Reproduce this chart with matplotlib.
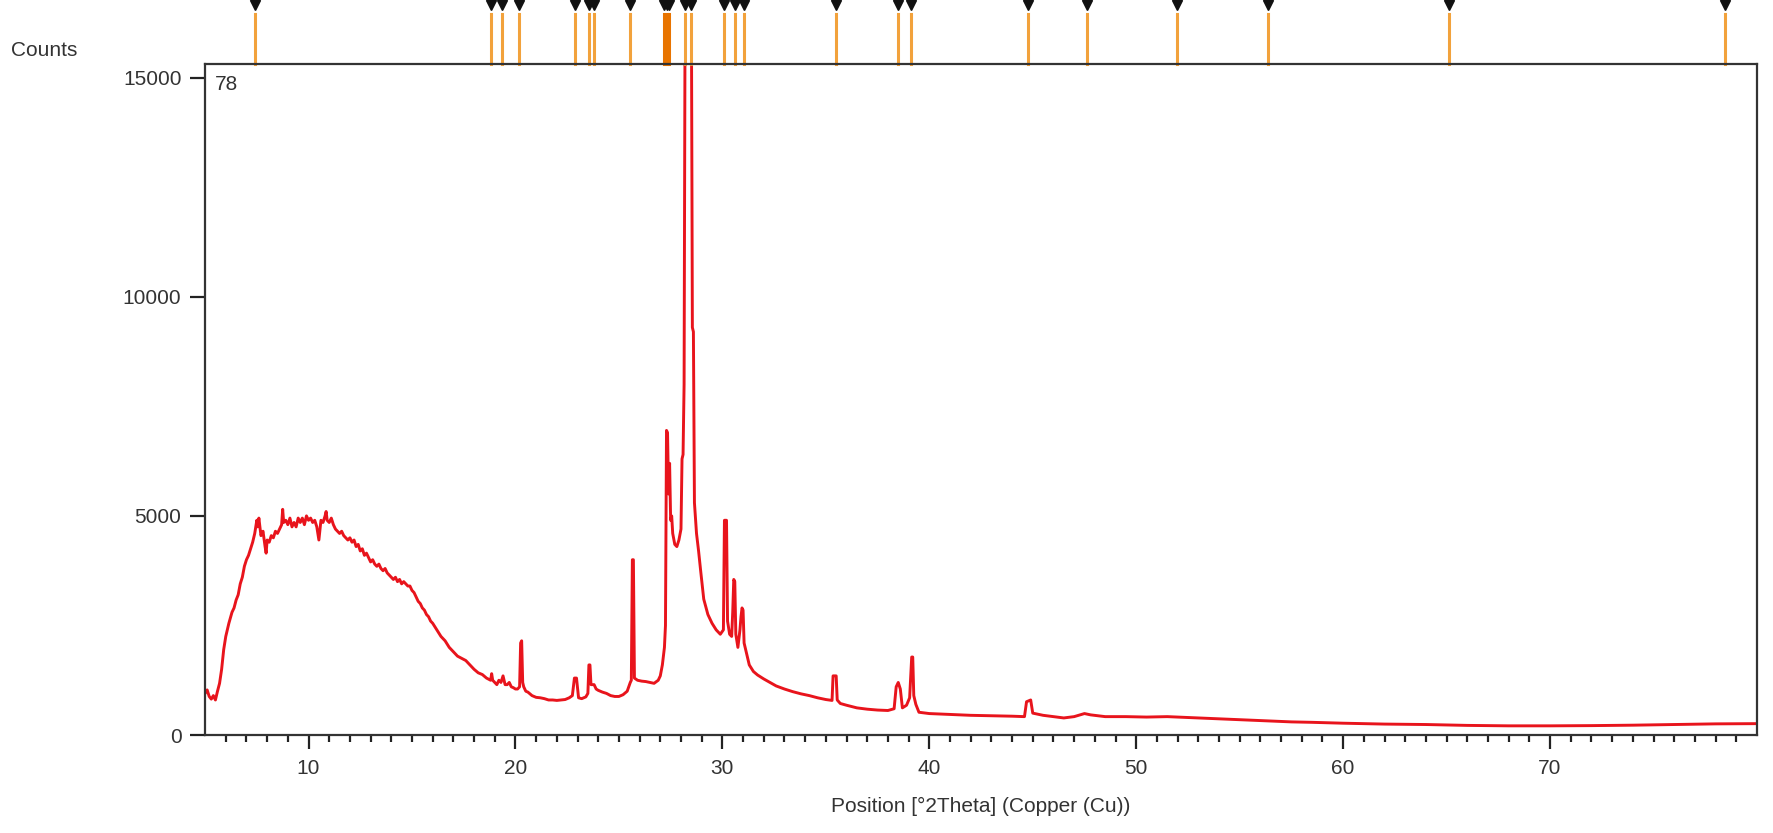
import numpy as np
import matplotlib.pyplot as plt
import matplotlib.transforms as mtransforms

# diffractogram: position (deg 2theta) and counts
two_theta = [
    5.0, 5.1, 5.2, 5.3, 5.4, 5.5, 5.6, 5.7, 5.8, 5.9, 6.0, 6.15, 6.3, 6.4, 6.5, 6.6, 6.7, 6.8, 6.9,
    7.0, 7.1, 7.2, 7.3, 7.4, 7.5, 7.55, 7.6, 7.7, 7.8, 7.9, 7.95, 8.0, 8.1, 8.2, 8.3, 8.4, 8.5, 8.6,
    8.7, 8.75, 8.8, 8.9, 9.0, 9.1, 9.2, 9.3, 9.4, 9.5, 9.6, 9.7, 9.8, 9.9, 10.0, 10.1, 10.2, 10.3,
    10.4, 10.5, 10.6, 10.7, 10.8, 10.85, 10.9, 11.0, 11.1, 11.2, 11.3, 11.4, 11.5, 11.6, 11.7, 11.8,
    11.9, 12.0, 12.1, 12.2, 12.3, 12.4, 12.5, 12.6, 12.7, 12.8, 12.9, 13.0, 13.1, 13.2, 13.3, 13.4,
    13.5, 13.6, 13.7, 13.8, 13.9, 14.0, 14.1, 14.2, 14.3, 14.4, 14.5, 14.6, 14.7, 14.8, 14.9, 15.0,
    15.1, 15.2, 15.3, 15.4, 15.5, 15.6, 15.7, 15.8, 15.9, 16.0, 16.2, 16.4, 16.6, 16.8, 17.0, 17.2,
    17.4, 17.6, 17.8, 18.0, 18.2, 18.4, 18.6, 18.8, 18.85, 18.9, 19.0, 19.1, 19.2, 19.3, 19.4, 19.5,
    19.6, 19.7, 19.8, 19.9, 20.0, 20.1, 20.2, 20.25, 20.3, 20.35, 20.4, 20.5, 20.6, 20.8, 21.0, 21.2,
    21.4, 21.6, 21.8, 22.0, 22.2, 22.4, 22.6, 22.75, 22.85, 22.95, 23.05, 23.2, 23.4, 23.5, 23.55,
    23.6, 23.65, 23.8, 23.9, 24.0, 24.2, 24.4, 24.6, 24.8, 25.0, 25.2, 25.4, 25.55, 25.6, 25.65, 25.7,
    25.75, 25.9, 26.1, 26.3, 26.5, 26.7, 26.9, 27.0, 27.1, 27.2, 27.25, 27.3, 27.35, 27.4, 27.45,
    27.5, 27.55, 27.6, 27.7, 27.8, 27.9, 28.0, 28.05, 28.1, 28.15, 28.2, 28.5, 28.55, 28.6, 28.65,
    28.75, 28.85, 28.95, 29.1, 29.3, 29.5, 29.7, 29.9, 30.05, 30.1, 30.2, 30.25, 30.35, 30.45, 30.5,
    30.55, 30.6, 30.65, 30.75, 30.85, 30.9, 30.95, 31.0, 31.05, 31.15, 31.3, 31.5, 31.7, 32.0, 32.3,
    32.6, 33.0, 33.4, 33.8, 34.2, 34.6, 35.0, 35.3, 35.35, 35.5, 35.55, 35.7, 36.0, 36.5, 37.0, 37.5,
    38.0, 38.3, 38.4, 38.5, 38.6, 38.7, 38.9, 39.05, 39.15, 39.2, 39.25, 39.35, 39.5, 40.0, 41.0,
    42.0, 43.0, 44.0, 44.6, 44.7, 44.9, 45.0, 45.5, 46.0, 46.5, 47.0, 47.5, 47.8, 48.5, 49.5, 50.5,
    51.5, 52.5, 53.5, 54.5, 55.5, 56.5, 57.5, 58.5, 60.0, 62.0, 64.0, 66.0, 68.0, 70.0, 72.0, 74.0,
    76.0, 78.0, 80.0,
]
counts = [
    950, 1030, 880, 820, 900, 800, 1000, 1180, 1500, 1950, 2250, 2550, 2800, 2900, 3080, 3200, 3450, 3600, 3850,
    4000, 4100, 4250, 4400, 4600, 4900, 4750, 4950, 4550, 4650, 4300, 4150, 4450, 4400, 4550, 4500, 4650, 4600, 4700,
    4800, 5150, 4850, 4900, 4800, 4950, 4750, 4850, 4750, 4950, 4850, 4950, 4800, 5000, 4900, 4950, 4850, 4900,
    4750, 4450, 4900, 4850, 5000, 5100, 4900, 4850, 4950, 4800, 4700, 4650, 4600, 4650, 4550, 4500,
    4450, 4500, 4400, 4450, 4300, 4350, 4200, 4250, 4100, 4150, 4050, 3950, 4000, 3900, 3850, 3900,
    3800, 3750, 3800, 3700, 3650, 3600, 3550, 3600, 3500, 3550, 3450, 3500, 3450, 3400, 3400, 3300,
    3250, 3150, 3050, 3000, 2900, 2850, 2750, 2700, 2600, 2550, 2400, 2250, 2150, 2000, 1900, 1800,
    1750, 1700, 1600, 1500, 1420, 1380, 1300, 1250, 1400, 1250, 1200, 1150, 1250, 1200, 1350, 1150,
    1150, 1200, 1100, 1080, 1050, 1050, 1100, 2100, 2150, 1200, 1100, 1000, 980, 900, 860, 850,
    830, 800, 800, 790, 800, 810, 850, 900, 1300, 1300, 850, 830, 870, 950, 1600,
    1600, 1150, 1150, 1050, 1020, 980, 950, 900, 880, 880, 920, 1000, 1200, 1250, 4000, 4000,
    1300, 1250, 1230, 1220, 1200, 1180, 1250, 1350, 1600, 2000, 2500, 6950, 6900, 5500, 6200,
    4900, 5000, 4600, 4350, 4300, 4450, 4700, 6300, 6400, 8000, 17000, 17000, 9300, 9200, 5300,
    4600, 4200, 3750, 3100, 2750, 2550, 2400, 2300, 2400, 4900, 4900, 2600, 2300, 2250, 2800,
    3550, 3500, 2300, 2000, 2400, 2700, 2900, 2850, 2100, 1900, 1600, 1450, 1370, 1280, 1200,
    1120, 1050, 990, 940, 900, 850, 810, 790, 1350, 1350, 800, 720, 680, 620, 590, 570,
    560, 600, 1100, 1200, 1050, 620, 680, 850, 1780, 1780, 900, 700, 520, 490, 470,
    450, 440, 430, 420, 760, 800, 500, 450, 420, 390, 420, 490, 460, 420, 420, 410,
    420, 400, 380, 360, 340, 320, 300, 290, 270, 250, 240, 220, 210, 210, 215, 225,
    240, 255, 260,
]

# reference pattern stick positions shown above the plot
ref_pos = [7.42, 18.84, 19.36, 20.15, 22.88, 23.56, 23.78, 25.52, 27.2, 27.3, 27.4,
           28.19, 28.46, 30.07, 30.63, 31.03, 35.47, 38.49, 39.14, 44.76, 47.64,
           51.99, 56.36, 65.13, 78.44]

plt.rcParams['font.family'] = ['Liberation Sans', 'DejaVu Sans']
txt = '#333333'

fig = plt.figure(figsize=(17.74, 8.33), dpi=100)
ax = fig.add_axes([0.1156, 0.1176, 0.8748, 0.805])

ax.plot(two_theta, counts, color='#e8141c', lw=2.1)
ax.set_xlim(5, 80)
ax.set_ylim(0, 15300)

ax.set_xticks(np.arange(10, 80, 10))
ax.set_xticks(np.arange(6, 80, 1), minor=True)
ax.set_yticks([0, 5000, 10000, 15000])
ax.tick_params(axis='x', which='major', length=10, width=1.6, colors='#222222', labelcolor=txt, labelsize=15, pad=7)
ax.tick_params(axis='x', which='minor', length=5, width=1.6, colors='#222222')
ax.tick_params(axis='y', length=11, width=1.6, colors='#222222', labelcolor=txt, labelsize=15, pad=6)
for s in ax.spines.values():
    s.set_linewidth(1.6)
    s.set_color('#333333')

ax.set_xlabel('Position [°2Theta] (Copper (Cu))', fontsize=15, color=txt, labelpad=14)
fig.text(0.006, 0.939, 'Counts', fontsize=15, color=txt, va='center', ha='left')
ax.text(0.006, 0.985, '78', transform=ax.transAxes, fontsize=15, color=txt, va='top', ha='left')

# stick markers above the axes
trans = mtransforms.blended_transform_factory(ax.transData, ax.transAxes)
for p in ref_pos:
    col = '#e87400' if 27.1 < p < 27.5 else '#f2a23c'
    ax.plot([p, p], [1.0, 1.075], color=col, lw=2.2, transform=trans, clip_on=False)
    ax.plot([p], [1.088], marker='v', color='#111111', markersize=6.5, transform=trans, clip_on=False)

fig.savefig('out.png', dpi=100)
